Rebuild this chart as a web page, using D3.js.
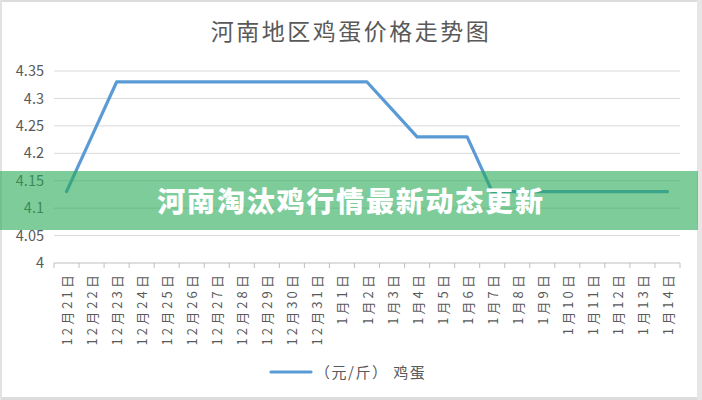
<!DOCTYPE html>
<html><head><meta charset="utf-8">
<script src="https://cdn.jsdelivr.net/npm/d3@7/dist/d3.min.js"></script>
<style>body{margin:0;background:#fff;}svg{display:block;}</style>
</head><body>
<svg id="c" width="702" height="400"></svg>
<script>
const categories = ["12月21日","12月22日","12月23日","12月24日","12月25日","12月26日","12月27日","12月28日","12月29日","12月30日","12月31日","1月1日","1月2日","1月3日","1月4日","1月5日","1月6日","1月7日","1月8日","1月9日","1月10日","1月11日","1月12日","1月13日","1月14日"];
const eggPrice = [4.13,4.23,4.33,4.33,4.33,4.33,4.33,4.33,4.33,4.33,4.33,4.33,4.33,4.28,4.23,4.23,4.23,4.13,4.13,4.13,4.13,4.13,4.13,4.13,4.13];
const yTicks = [4,4.05,4.1,4.15,4.2,4.25,4.3,4.35];
const yTickLabels = ["4","4.05","4.1","4.15","4.2","4.25","4.3","4.35"];
const titleText = "河南地区鸡蛋价格走势图";
const legendText = "（元/斤） 鸡蛋";
const bannerText = "河南淘汰鸡行情最新动态更新";

const svg = d3.select("#c");
const font = "'Noto Sans CJK SC', 'Noto Sans', sans-serif";
const W = 702, H = 400;
const x = d3.scaleBand().domain(categories).range([54, 680]);
const y = d3.scaleLinear().domain([4, 4.35]).range([263, 71]);

// frame
svg.append("rect").attr("x",0).attr("y",0).attr("width",W).attr("height",H).attr("fill","#fff");
svg.append("rect").attr("x",0).attr("y",0).attr("width",W).attr("height",2).attr("fill","#dcdcdc");
svg.append("rect").attr("x",0).attr("y",397).attr("width",W).attr("height",3).attr("fill","#dcdcdc");
svg.append("rect").attr("x",0).attr("y",0).attr("width",2).attr("height",H).attr("fill","#e2e2e2");
svg.append("rect").attr("x",697).attr("y",0).attr("width",5).attr("height",H).attr("fill","#e6e6e6");

// title
svg.append("text").attr("x",351).attr("y",40).attr("text-anchor","middle")
  .attr("font-family",font).attr("font-size",23).attr("letter-spacing",2.5).attr("fill","#595959").text(titleText);

// gridlines
svg.append("g").selectAll("line").data(yTicks.slice(1)).join("line")
  .attr("x1",54).attr("x2",680).attr("y1",d=>y(d)).attr("y2",d=>y(d))
  .attr("stroke","#d9d9d9").attr("stroke-width",1);

// y axis labels
const yAxis = d3.axisLeft(y).tickValues(yTicks).tickFormat((d,i)=>yTickLabels[i]).tickSize(0).tickPadding(10);
const gy = svg.append("g").attr("transform","translate(54,0)").call(yAxis);
gy.select(".domain").remove();
gy.selectAll("text").attr("font-family",font).attr("font-size",14.5).attr("fill","#595959");

// x axis
const gx = svg.append("g").attr("transform","translate(0,263)");
gx.append("line").attr("x1",54).attr("x2",680).attr("y1",0).attr("y2",0).attr("stroke","#bfbfbf");
const bounds = categories.map(c=>x(c)).concat([x(categories[categories.length-1])+x.bandwidth()]);
gx.selectAll("line.t").data(bounds).join("line").attr("class","t")
  .attr("x1",d=>d).attr("x2",d=>d).attr("y1",0).attr("y2",5).attr("stroke","#bfbfbf");
gx.selectAll("text").data(categories).join("text")
  .attr("transform",d=>`translate(${x(d)+x.bandwidth()/2},9) rotate(-90)`)
  .attr("text-anchor","end").attr("dominant-baseline","central")
  .attr("font-family",font).attr("font-size",13).attr("letter-spacing",3.1).attr("fill","#595959").text(d=>d);

// line
const line = d3.line().x((d,i)=>x(categories[i])+x.bandwidth()/2).y(d=>y(d));
svg.append("path").datum(eggPrice).attr("d",line).attr("fill","none")
  .attr("stroke","#5b9bd5").attr("stroke-width",3.2).attr("stroke-linejoin","round").attr("stroke-linecap","round");

// legend
svg.append("line").attr("x1",271).attr("x2",311).attr("y1",372).attr("y2",372)
  .attr("stroke","#5b9bd5").attr("stroke-width",3.2).attr("stroke-linecap","round");
svg.append("text").attr("x",315).attr("y",378).attr("font-family",font).attr("font-size",15).attr("letter-spacing",1.5)
  .attr("fill","#595959").text(legendText);

// banner overlay
svg.append("rect").attr("x",0).attr("y",171).attr("width",698).attr("height",59)
  .attr("fill","rgb(40,170,87)").attr("fill-opacity",0.6);
svg.append("text").attr("x",351).attr("y",200).attr("text-anchor","middle").attr("dominant-baseline","central")
  .attr("font-family",font).attr("font-weight",900).attr("font-size",28).attr("letter-spacing",1.8)
  .attr("fill","#fff").text(bannerText);
</script>
</body></html>
